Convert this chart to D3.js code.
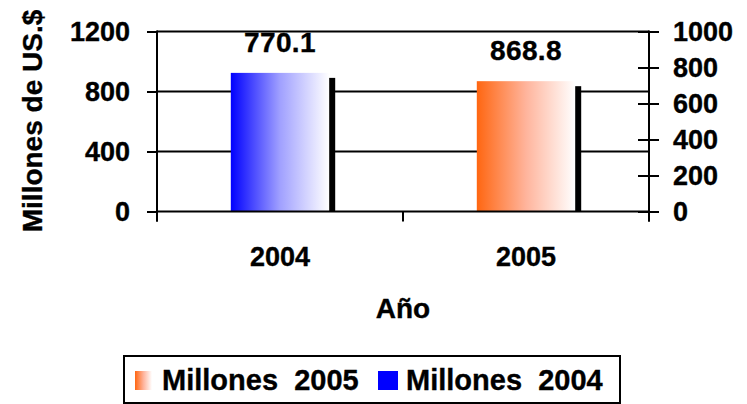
<!DOCTYPE html>
<html>
<head>
<meta charset="utf-8">
<script src="https://cdn.jsdelivr.net/npm/d3@7"></script>
<style>
  html, body { margin: 0; padding: 0; background: #fff; }
  svg { display: block; }
  text { font-family: "Liberation Sans", Arial, sans-serif; font-weight: bold; fill: #000; stroke: #000; stroke-width: 0.35px; }
</style>
</head>
<body>
<svg id="chart" width="747" height="404"></svg>
<script>
const categories = ["2004", "2005"];
const values = [770.1, 868.8];
const valueLabels = ["770.1", "868.8"];
const seriesAxis = ["right", "left"];
const leftTicks = [0, 400, 800, 1200];
const rightTicks = [0, 200, 400, 600, 800, 1000];
const gridTicks = [400, 800, 1200];
const legendNames = ["Millones  2005", "Millones  2004"];
const yTitle = "Millones de US.$";
const xTitle = "Año";

const svg = d3.select("#chart");
const plot = { left: 157, right: 649, top: 31.5, bottom: 211.5 };

const x = d3.scaleBand().domain(categories).range([plot.left, plot.right]).padding(0);
const yL = d3.scaleLinear().domain([0, 1200]).range([plot.bottom, plot.top]);
const yR = d3.scaleLinear().domain([0, 1000]).range([plot.bottom, plot.top]);

const defs = svg.append("defs");
const gBlue = defs.append("linearGradient").attr("id", "gBlue").attr("x1", "0").attr("x2", "1").attr("y1", "0").attr("y2", "0");
gBlue.append("stop").attr("offset", "0").attr("stop-color", "#0000ff");
gBlue.append("stop").attr("offset", "0.5").attr("stop-color", "#a0a0ff");
gBlue.append("stop").attr("offset", "1").attr("stop-color", "#ffffff");
const gOr = defs.append("linearGradient").attr("id", "gOrange").attr("x1", "0").attr("x2", "1").attr("y1", "0").attr("y2", "0");
gOr.append("stop").attr("offset", "0").attr("stop-color", "#ff6611");
gOr.append("stop").attr("offset", "0.5").attr("stop-color", "#ffb49c");
gOr.append("stop").attr("offset", "1").attr("stop-color", "#ffffff");
const fills = ["url(#gBlue)", "url(#gOrange)"];

// gridlines (behind bars)
svg.append("g").selectAll("line").data(gridTicks.filter(d => d < 1200)).join("line")
  .attr("x1", plot.left).attr("x2", plot.right)
  .attr("y1", d => yL(d)).attr("y2", d => yL(d))
  .attr("stroke", "#000").attr("stroke-width", 2);

// bars
const bw = x.bandwidth() * 0.4;
const bars = svg.append("g");
categories.forEach((c, i) => {
  const ys = seriesAxis[i] === "right" ? yR : yL;
  const bx = x(c) + (x.bandwidth() - bw) / 2;
  const top = ys(values[i]);
  bars.append("rect").attr("x", bx + 6).attr("y", top + 5)
    .attr("width", bw).attr("height", plot.bottom - top - 5).attr("fill", "#000");
  bars.append("rect").attr("x", bx).attr("y", top)
    .attr("width", bw).attr("height", plot.bottom - top).attr("fill", fills[i]);
  svg.append("text").attr("x", x(c) + x.bandwidth() / 2).attr("y", top - 21)
    .attr("text-anchor", "middle").attr("font-size", 28).attr("letter-spacing", 0.4)
    .text(valueLabels[i]);
});

// top gridline
svg.append("line").attr("x1", plot.left).attr("x2", plot.right)
  .attr("y1", yL(1200)).attr("y2", yL(1200)).attr("stroke", "#000").attr("stroke-width", 2);

// x axis line
svg.append("line").attr("x1", plot.left).attr("x2", plot.right)
  .attr("y1", plot.bottom).attr("y2", plot.bottom).attr("stroke", "#000").attr("stroke-width", 2);
// x ticks at band boundaries
const bounds = categories.map(c => x(c)).concat([plot.right]);
svg.append("g").selectAll("line").data(bounds).join("line")
  .attr("x1", d => d).attr("x2", d => d).attr("y1", plot.bottom).attr("y2", plot.bottom + 10)
  .attr("stroke", "#000").attr("stroke-width", 2);
svg.append("g").selectAll("text").data(categories).join("text")
  .attr("x", d => x(d) + x.bandwidth() / 2).attr("y", 266)
  .attr("text-anchor", "middle").attr("font-size", 27).text(d => d);

// left axis
const axL = svg.append("g").attr("transform", `translate(${plot.left},0)`)
  .call(d3.axisLeft(yL).tickValues(leftTicks).tickSize(10).tickPadding(17).tickFormat(d3.format("d")));
axL.select(".domain").remove();
axL.selectAll(".tick line").attr("stroke", "#000").attr("stroke-width", 2);
axL.selectAll(".tick text").attr("font-size", 27).attr("font-family", null).attr("fill", "#000");
svg.append("line").attr("x1", plot.left).attr("x2", plot.left).attr("y1", plot.top - 1).attr("y2", plot.bottom + 10)
  .attr("stroke", "#000").attr("stroke-width", 2);

// right axis
const axR = svg.append("g").attr("transform", `translate(${plot.right},0)`)
  .call(d3.axisRight(yR).tickValues(rightTicks).tickSize(10).tickPadding(14).tickFormat(d3.format("d")));
axR.select(".domain").remove();
axR.selectAll(".tick line").attr("x1", -11).attr("x2", 10).attr("stroke", "#000").attr("stroke-width", 2);
axR.selectAll(".tick text").attr("font-size", 27).attr("font-family", null).attr("fill", "#000");
svg.append("line").attr("x1", plot.right).attr("x2", plot.right).attr("y1", plot.top - 1).attr("y2", plot.bottom + 10)
  .attr("stroke", "#000").attr("stroke-width", 2);

// titles
svg.append("text").attr("transform", "translate(42,121) rotate(-90)")
  .attr("text-anchor", "middle").attr("font-size", 28).text(yTitle);
svg.append("text").attr("x", 403).attr("y", 318).attr("text-anchor", "middle")
  .attr("font-size", 28).text(xTitle);

// legend
const lg = svg.append("g");
lg.append("rect").attr("x", 124).attr("y", 356).attr("width", 496).attr("height", 47)
  .attr("fill", "#fff").attr("stroke", "#000").attr("stroke-width", 2);
lg.append("rect").attr("x", 135).attr("y", 371).attr("width", 17).attr("height", 19).attr("fill", fills[1]);
lg.append("text").attr("x", 162).attr("y", 390).attr("font-size", 29)
  .style("white-space", "pre").text(legendNames[0]);
lg.append("rect").attr("x", 378).attr("y", 371).attr("width", 20).attr("height", 19).attr("fill", "#0000ff");
lg.append("text").attr("x", 406).attr("y", 390).attr("font-size", 29)
  .style("white-space", "pre").text(legendNames[1]);
</script>
</body>
</html>
